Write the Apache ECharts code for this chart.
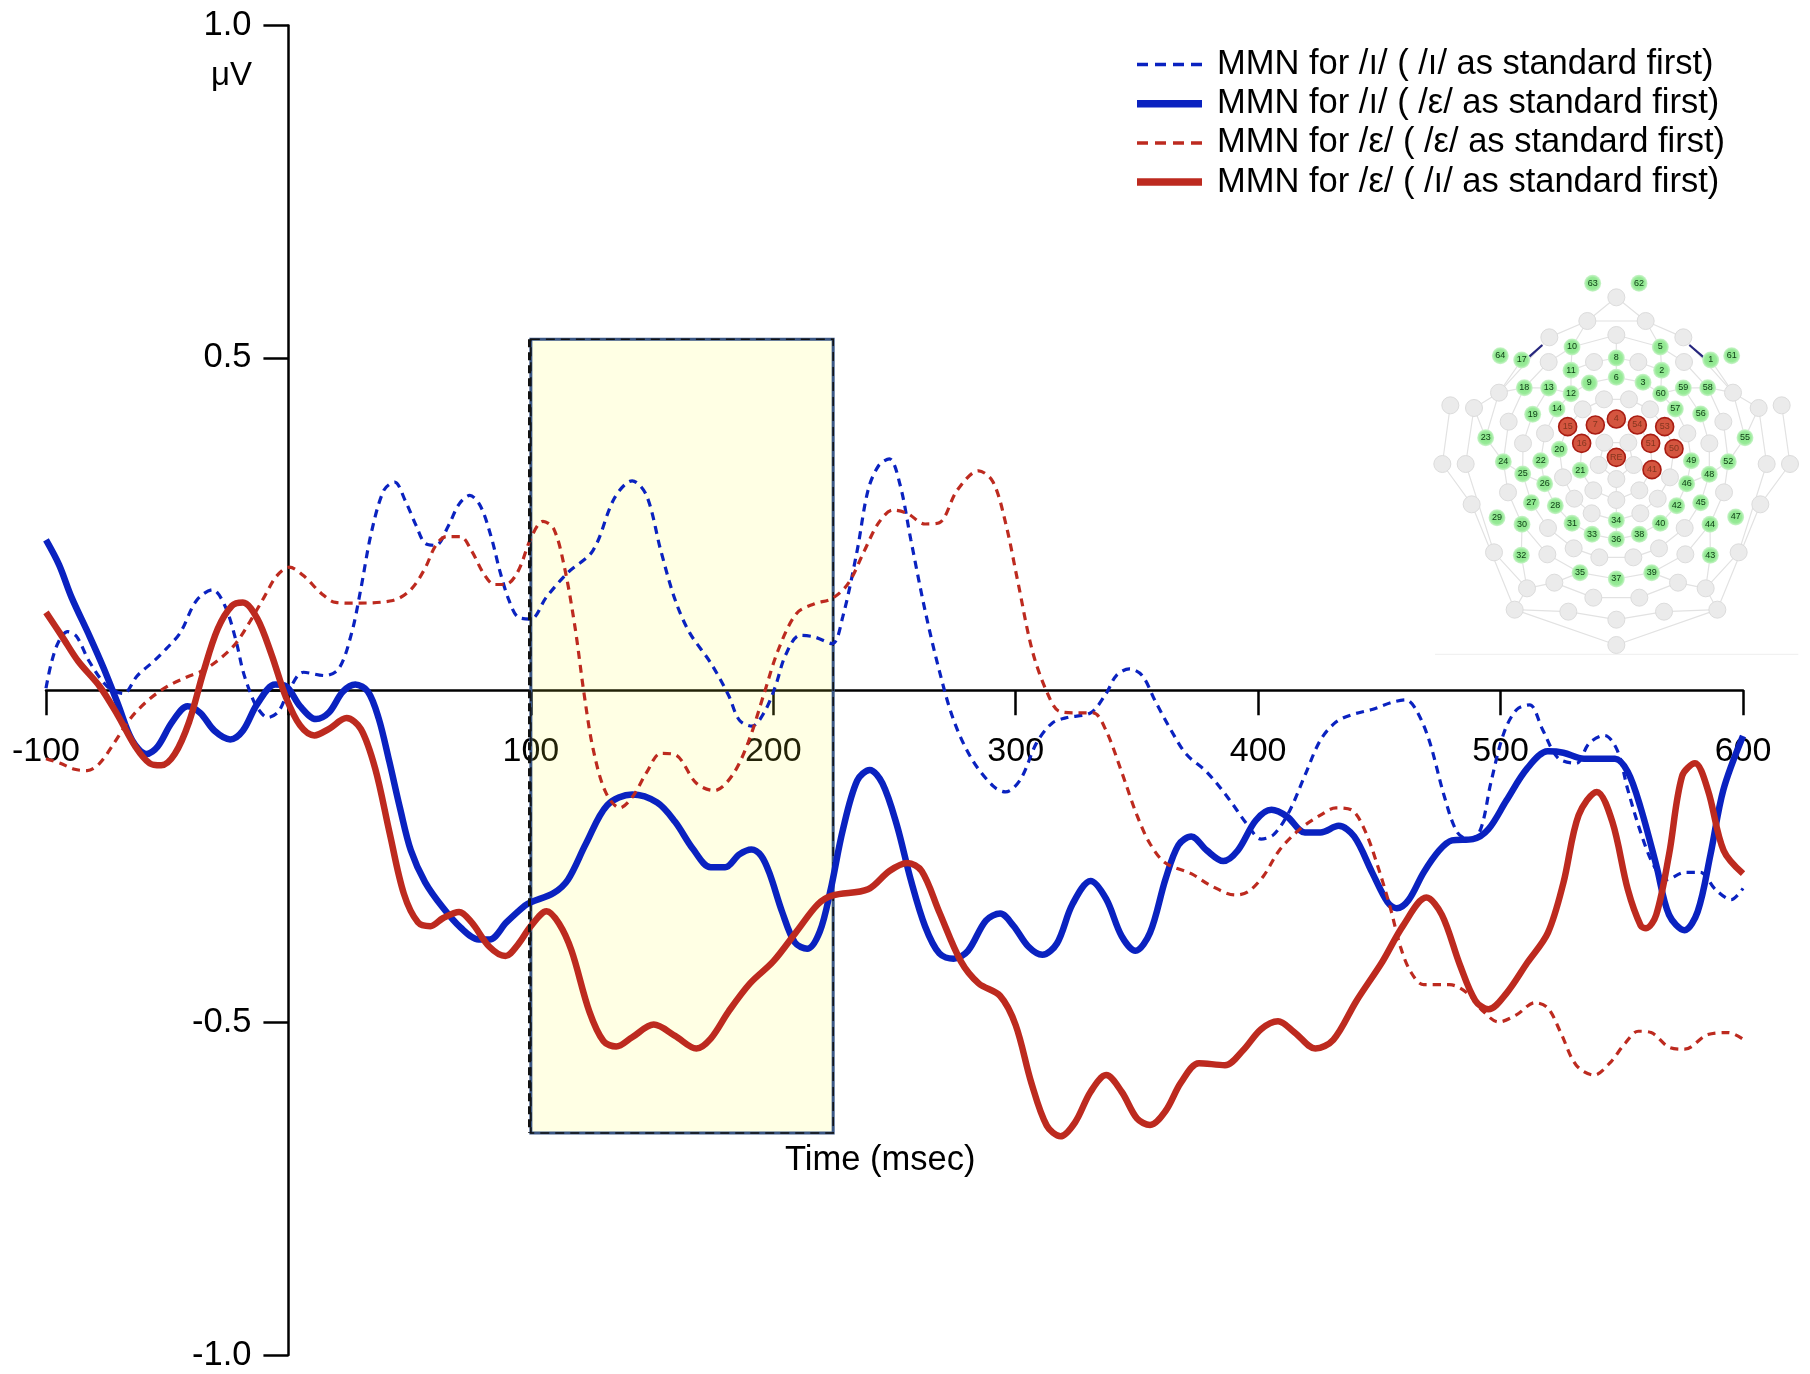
<!DOCTYPE html>
<html>
<head>
<meta charset="utf-8">
<style>html,body{margin:0;padding:0;background:#fff}#main{width:1810px;height:1374px}</style>
<script src="https://cdn.jsdelivr.net/npm/echarts@6/dist/echarts.min.js"></script>
</head>
<body>
<div id="main"></div>
<script>
// time (ms), amplitude (uV)
const blueDashed = [[-100,.003],[-97.8,.041],[-94.8,.073],[-91.1,.088],[-87.4,.081],[-82.2,.0435],[-74.8,.006],[-68.1,-.005],[-62.3,.022],[-55.6,.0435],[-49.7,.065],[-44.6,.0865],[-37.9,.135],[-31.3,.151],[-26.2,.127],[-21.7,.0757],[-18.8,.0295],[-15.9,-.002],[-12.9,-.026],[-8.5,-.041],[-4.1,-.032],[.3,.0005],[6.2,.027],[15,.022],[20.9,.033],[26.1,.0865],[29.8,.151],[34.2,.237],[39.4,.301],[43.8,.313],[48.2,.285],[52.7,.2475],[56.4,.221],[60.8,.218],[66,.2475],[70.4,.28],[74.8,.293],[79.2,.277],[83.6,.231],[87.3,.178],[91,.135],[94.7,.11],[100,.107],[106.4,.14],[115.3,.177],[125.6,.21],[134.5,.289],[141.8,.315],[147.7,.293],[153.6,.21],[159.5,.136],[165.4,.087],[174.2,.041],[181.6,-.008],[186,-.045],[191.2,-.054],[196.3,-.033],[200.7,.004],[205.2,.054],[211,.0825],[217,.08],[224.3,.07],[228.7,.111],[234.6,.21],[239.1,.301],[243.5,.338],[247.9,.348],[252.3,.309],[256.7,.227],[262.6,.12],[268.5,.029],[274.4,-.045],[281.8,-.103],[290.6,-.144],[295.8,-.153],[302,-.134],[308.5,-.08],[314.9,-.05],[321.3,-.041],[330.9,-.034],[337.3,-.005],[341.5,.022],[346.9,.032],[352.2,.022],[357.5,-.016],[363.9,-.059],[370.3,-.096],[378.8,-.123],[387.4,-.161],[395.9,-.204],[401.2,-.224],[406.5,-.217],[412.9,-.182],[419.3,-.128],[425.7,-.075],[432.1,-.048],[438.5,-.037],[447,-.029],[455.5,-.018],[460.9,-.0146],[465.1,-.029],[470.5,-.075],[476.9,-.161],[482.2,-.214],[487.5,-.225],[491.8,-.209],[496,-.139],[501.4,-.064],[506.7,-.029],[512,-.022],[517.3,-.059],[523.7,-.102],[531.2,-.11],[536.5,-.08],[542.9,-.068],[548.2,-.091],[552.5,-.15],[557.8,-.214],[563.1,-.263],[568.5,-.285],[575.9,-.274],[582.3,-.274],[588.7,-.3],[595.1,-.315],[600,-.298]];
const blueSolid = [[-100,.226],[-94.6,.1885],[-89.5,.14],[-82,.081],[-76.2,.033],[-70.3,-.021],[-64.5,-.075],[-58.5,-.096],[-54,-.085],[-48,-.048],[-41.6,-.024],[-36.4,-.034],[-30.5,-.061],[-24,-.074],[-18.8,-.061],[-12.9,-.021],[-5.5,.0086],[-1,.006],[4.8,-.024],[11.4,-.0435],[16.6,-.034],[22.5,-.002],[27.6,.0086],[32.8,-.002],[37.2,-.042],[41.6,-.107],[46,-.177],[50.5,-.241],[56.4,-.289],[63.7,-.327],[71,-.357],[78.5,-.375],[83,-.375],[90,-.349],[97.6,-.324],[100,-.319],[109.4,-.305],[115.3,-.285],[122.7,-.231],[131.5,-.173],[141.8,-.157],[152.1,-.169],[159.5,-.198],[166.9,-.239],[174.2,-.2665],[180.1,-.2665],[186,-.247],[191,-.2395],[195,-.249],[198.5,-.276],[203.7,-.334],[208.9,-.3795],[214,-.389],[219.2,-.363],[223.6,-.301],[228.7,-.21],[234.6,-.136],[239.8,-.12],[245,-.14],[250.9,-.202],[256.7,-.285],[262.6,-.355],[268.5,-.396],[274.4,-.404],[280.3,-.392],[287.7,-.3465],[293.6,-.336],[299,-.354],[305.3,-.386],[311,-.398],[317,-.381],[323.4,-.322],[330.9,-.287],[337.3,-.314],[343.7,-.37],[349.4,-.392],[355.4,-.365],[361.8,-.284],[367.1,-.233],[372.4,-.22],[378.8,-.241],[385.6,-.257],[391.6,-.241],[399,-.196],[405.5,-.18],[411.9,-.19],[419.3,-.214],[425.7,-.214],[433.2,-.204],[439.6,-.22],[447,-.274],[453.4,-.319],[457.2,-.328],[462,-.316],[468.3,-.274],[474.7,-.241],[480,-.226],[488.6,-.224],[495,-.209],[502.4,-.166],[510.9,-.118],[519.5,-.092],[525.9,-.094],[534.4,-.103],[547.2,-.103],[552.5,-.123],[557.8,-.177],[564.2,-.263],[569.5,-.338],[575.9,-.361],[581.3,-.333],[586.6,-.247],[591.9,-.15],[600,-.069]];
const redDashed = [[-100,-.103],[-94.1,-.11],[-88.2,-.119],[-83,-.121],[-77.9,-.11],[-72,-.08],[-64.6,-.04],[-57.2,-.013],[-49.8,.006],[-42.4,.019],[-35.1,.03],[-27.7,.049],[-21.8,.07],[-15.9,.103],[-10,.14],[-4.8,.172],[.4,.185],[6.3,.172],[13.6,.1455],[19.5,.132],[26.9,.131],[43.1,.135],[50.4,.151],[56.3,.183],[60.8,.218],[65.2,.231],[71,.231],[75.5,.21],[80.6,.175],[85,.159],[89.5,.159],[94.6,.178],[100.3,.231],[105,.254],[109.4,.243],[113.8,.186],[118.2,.095],[121.9,-.004],[125.6,-.087],[130.8,-.153],[136.7,-.177],[141.8,-.161],[147.7,-.124],[153.6,-.095],[159.5,-.097],[168.3,-.14],[175.7,-.151],[183.1,-.128],[189.7,-.078],[196.3,-.004],[202.2,.062],[209.6,.1155],[217,.13],[224.3,.138],[231,.161],[237.6,.21],[243.5,.252],[249.4,.271],[255.3,.266],[262.6,.25],[268.5,.252],[275.9,.301],[284.7,.33],[290.6,.3135],[295.8,.252],[301,.161],[306.8,.06],[312.8,-.002],[318.1,-.032],[325.6,-.034],[332,-.034],[337.3,-.061],[343.7,-.123],[350,-.188],[355.4,-.231],[361.8,-.26],[372.4,-.276],[381,-.295],[390.6,-.308],[395.9,-.303],[402.3,-.279],[408.7,-.241],[417.2,-.209],[425.7,-.188],[432.1,-.177],[438.5,-.18],[443.8,-.209],[449.2,-.263],[454.5,-.327],[458.7,-.386],[463,-.424],[468.3,-.443],[479,-.443],[486.4,-.456],[492.8,-.483],[499.2,-.499],[506.7,-.488],[514.1,-.47],[519.5,-.478],[524.8,-.515],[531.2,-.564],[538.6,-.579],[545,-.561],[551.4,-.531],[556.8,-.513],[562.1,-.515],[569.5,-.537],[575.9,-.54],[585.5,-.518],[594,-.515],[600,-.525]];
const redSolid = [[-100,.117],[-93.4,.081],[-86.7,.0435],[-77.9,.006],[-70.5,-.037],[-63.1,-.085],[-57.2,-.11],[-52.5,-.113],[-46.9,-.096],[-41,-.048],[-35.1,.027],[-29.2,.092],[-23.3,.127],[-18.8,.132],[-12.9,.108],[-7,.054],[-1.1,-.01],[4.8,-.053],[10.7,-.068],[16.6,-.0585],[24,-.042],[29.9,-.0585],[35.8,-.118],[41.7,-.214],[47.6,-.306],[53.4,-.349],[58.6,-.355],[63.7,-.343],[70.4,-.3335],[75.5,-.349],[82.9,-.386],[89.5,-.4],[94.6,-.383],[100,-.355],[106.5,-.3325],[111.6,-.351],[116.8,-.392],[124.1,-.483],[130,-.528],[135.2,-.536],[141.8,-.522],[150.7,-.503],[159.5,-.52],[168.3,-.539],[174.2,-.524],[181.6,-.483],[190.4,-.441],[200,-.408],[209.6,-.363],[218.4,-.322],[224.3,-.309],[239.1,-.2995],[247.9,-.272],[255.3,-.26],[261.2,-.272],[268.5,-.334],[277.4,-.408],[284.7,-.441],[293.6,-.46],[300,-.504],[306.4,-.59],[312.8,-.655],[318.5,-.671],[324.5,-.65],[330.9,-.604],[337.3,-.579],[343.7,-.604],[350,-.644],[355.4,-.654],[361.8,-.633],[368.2,-.59],[375.6,-.561],[386.3,-.564],[393.7,-.542],[401.2,-.51],[408.2,-.498],[415.1,-.515],[423.6,-.539],[431,-.526],[440.6,-.467],[451.3,-.408],[459.8,-.354],[469.4,-.312],[475.8,-.338],[483.2,-.413],[489.6,-.467],[495,-.48],[502.4,-.456],[511,-.41],[519.5,-.365],[525.9,-.29],[532.2,-.188],[539.7,-.153],[546.1,-.198],[552.5,-.3],[557.8,-.354],[560,-.358],[564.2,-.338],[569.5,-.247],[574.9,-.129],[580.2,-.11],[585.5,-.15],[592,-.241],[600,-.276]];

const seriesNames = ['MMN for /ı/ ( /ı/ as standard first)', 'MMN for /ı/ ( /ε/ as standard first)', 'MMN for /ε/ ( /ε/ as standard first)', 'MMN for /ε/ ( /ı/ as standard first)'];
const windowTime = [100, 224.7];
const windowAmp = [.528, -.666];

// electrode map, in the inset's own units
const greenSites = [[518,70,'63'],[657,70,'62'],[241,287,'64'],[305,300,'17'],[456,261,'10'],[721,261,'5'],[872,300,'1'],[935,287,'61'],[589,294,'8'],[453,331,'11'],[725,331,'2'],[508,369,'9'],[589,352,'6'],[669,367,'3'],[313,383,'18'],[386,384,'13'],[453,401,'12'],[722,401,'60'],[790,384,'59'],[863,383,'58'],[411,447,'14'],[766,447,'57'],[338,463,'19'],[842,462,'56'],[197,533,'23'],[975,533,'55'],[418,568,'20'],[362,602,'22'],[250,605,'24'],[925,605,'52'],[814,602,'49'],[481,631,'21'],[308,642,'25'],[868,643,'48'],[374,671,'26'],[800,671,'46'],[334,728,'27'],[842,728,'45'],[406,737,'28'],[770,737,'42'],[231,773,'29'],[947,771,'47'],[306,793,'30'],[870,793,'44'],[456,790,'31'],[721,790,'40'],[589,781,'34'],[516,823,'33'],[658,823,'38'],[589,838,'36'],[304,886,'32'],[871,886,'43'],[480,938,'35'],[695,938,'39'],[589,957,'37']];
const redSites = [[589,477,'4'],[526,495,'7'],[443,500,'15'],[485,550,'16'],[652,495,'54'],[734,500,'53'],[692,550,'51'],[762,566,'50'],[696,629,'41'],[589,592,'RE']];
const greySites = [[589,112],[502,183],[677,183],[388,232],[790,232],[589,225],[386,306],[792,306],[522,306],[655,306],[237,398],[939,398],[552,418],[627,418],[488,448],[690,448],[91,436],[162,444],[1016,444],[1085,436],[266,485],[910,485],[375,520],[802,520],[309,550],[868,550],[553,548],[625,548],[67,612],[137,612],[1040,612],[1110,612],[536,615],[641,615],[429,652],[750,652],[589,657],[264,697],[912,697],[520,691],[658,691],[463,716],[713,716],[589,720],[155,733],[1021,733],[515,760],[661,760],[384,804],[794,804],[222,877],[956,877],[382,883],[796,883],[461,865],[717,865],[538,892],[640,892],[321,985],[857,985],[403,968],[774,968],[520,1013],[658,1013],[284,1049],[892,1049],[445,1055],[732,1055],[589,1079],[589,1155]];
const siteLinks = [
  [[91,436],[67,612],[155,733],[284,1049],[589,1155],[892,1049],[1021,733],[1110,612],[1085,436]],
  [[162,444],[137,612],[222,877],[321,985],[284,1049]],
  [[1016,444],[1040,612],[956,877],[857,985],[892,1049]],
  [[162,444],[237,398],[388,232],[502,183],[589,112],[677,183],[790,232],[939,398],[1016,444]],
  [[502,183],[677,183]],
  [[502,183],[456,261],[453,331],[453,401]],
  [[677,183],[721,261],[725,331],[722,401]],
  [[386,306],[456,261],[589,225],[721,261],[792,306]],
  [[305,300],[237,398],[313,383],[386,384],[453,401],[508,369],[589,352],[669,367],[722,401],[790,384],[863,383],[939,398],[872,300]],
  [[386,306],[313,383],[266,485],[250,605],[264,697],[306,793],[304,886],[321,985]],
  [[792,306],[863,383],[910,485],[925,605],[912,697],[870,793],[871,886],[857,985]],
  [[453,331],[522,306],[589,294],[655,306],[725,331]],
  [[386,384],[338,463],[309,550],[308,642],[334,728],[384,804],[461,865],[538,892],[640,892],[717,865],[794,804],[842,728],[868,643],[868,550],[842,462],[790,384]],
  [[453,401],[411,447],[375,520],[362,602],[374,671],[406,737],[456,790],[516,823],[589,838],[658,823],[721,790],[770,737],[800,671],[814,602],[802,520],[766,447],[722,401]],
  [[488,448],[443,500],[418,568],[429,652],[463,716],[515,760],[589,781],[661,760],[713,716],[750,652],[762,566],[734,500],[690,448],[627,418],[552,418],[488,448]],
  [[526,495],[589,477],[652,495],[692,550],[696,629],[658,691],[589,720],[520,691],[481,631],[485,550],[526,495]],
  [[553,548],[625,548],[641,615],[589,657],[536,615],[553,548]],
  [[589,225],[589,352]],
  [[589,657],[589,838]],
  [[284,1049],[445,1055],[589,1079],[732,1055],[892,1049]],
  [[321,985],[403,968],[520,1013],[658,1013],[774,968],[857,985]],
  [[403,968],[480,938],[589,957],[695,938],[774,968]],
  [[306,793],[382,883],[480,938]],
  [[870,793],[796,883],[695,938]],
  [[162,444],[197,533],[250,605],[308,642],[374,671]],
  [[1016,444],[975,533],[925,605],[868,643],[800,671]],
  [[237,398],[197,533]],
  [[939,398],[975,533]]
];
const navyLinks = [[[328,290],[367,255]], [[808,255],[852,293]]];
const floorLine = [[45,1183],[1135,1183]];

const BLUE = '#0a22c0';
const RED = '#bd2a1f';
const FONT = '"Liberation Sans", Arial, sans-serif';
const PLOT_W = 1697;
const PLOT_H = 1329.6;

// legend keys
const solidKey = 'path://M0 0H65V7.5H0Z';
const dashedKey = 'path://M0 2H11V5.5H0ZM18 2H29V5.5H18ZM36 2H47V5.5H36ZM54 2H65V5.5H54ZM0 0H0V7.5H0Z';

var myChart = echarts.init(document.getElementById('main'));

function curve(name, data, color, width, dash) {
  return {
    name: name,
    type: 'line',
    data: data,
    smooth: 0.33,
    symbol: 'none',
    z: 3,
    lineStyle: { color: color, width: width, type: dash ? [8, 6] : 'solid', cap: 'butt' },
    itemStyle: { color: color }
  };
}

function insetLine(points, color, width) {
  return {
    type: 'line', xAxisIndex: 1, yAxisIndex: 1, data: points, symbol: 'none', silent: true, z: 1,
    lineStyle: { color: color, width: width }
  };
}

function sites(data, size, fill, border, borderWidth, textColor, z) {
  return {
    type: 'scatter', xAxisIndex: 1, yAxisIndex: 1, data: data, symbolSize: size, silent: true, z: z,
    itemStyle: { color: fill, borderColor: border, borderWidth: borderWidth, opacity: 1 },
    label: {
      show: !!textColor, position: 'inside', color: textColor, fontSize: 9, fontFamily: FONT,
      formatter: function (p) { return p.value[2]; }
    }
  };
}

const greenFill = {
  type: 'radial', x: .5, y: .5, r: .5,
  colorStops: [{ offset: 0, color: '#86e586' }, { offset: .7, color: '#98ea98' }, { offset: 1, color: '#cdf5cd' }]
};

var option = {
  animation: false,
  backgroundColor: '#fff',
  textStyle: { fontFamily: FONT },
  legend: {
    orient: 'vertical',
    left: 1132,
    top: 42,
    itemWidth: 65,
    itemHeight: 7.5,
    itemGap: 4.2,
    selectedMode: false,
    data: [
      { name: seriesNames[0], icon: dashedKey },
      { name: seriesNames[1], icon: solidKey },
      { name: seriesNames[2], icon: dashedKey },
      { name: seriesNames[3], icon: solidKey }
    ],
    textStyle: { fontSize: 34.5, lineHeight: 34, color: '#000', fontFamily: FONT, padding: [0, 0, 0, 10] }
  },
  grid: [
    { left: 46, top: 25.4, width: PLOT_W, height: PLOT_H, outerBoundsMode: 'none' },
    { left: 1420, top: 260, width: 390, height: 410, outerBoundsMode: 'none' }
  ],
  xAxis: [
    {
      type: 'value', min: -100, max: 600, interval: 100,
      position: 'bottom', offset: -PLOT_H / 2,
      splitLine: { show: false },
      axisLine: { onZero: false, lineStyle: { color: '#000', width: 2.5 } },
      axisTick: { length: 25, lineStyle: { color: '#000', width: 2.5 } },
      axisLabel: {
        fontSize: 34, color: '#000', margin: 44, fontFamily: FONT, showMinLabel: true, showMaxLabel: true,
        formatter: function (v) { return v === 0 ? '' : String(v); }
      }
    },
    { gridIndex: 1, type: 'value', min: 0, max: 1170, show: false }
  ],
  yAxis: [
    {
      type: 'value', min: -1, max: 1, interval: .5,
      position: 'left', offset: -PLOT_W / 7,
      splitLine: { show: false },
      axisLine: { onZero: false, lineStyle: { color: '#000', width: 2.5 } },
      axisTick: { length: 25, lineStyle: { color: '#000', width: 2.5 } },
      axisLabel: {
        fontSize: 34.5, color: '#000', margin: 37, fontFamily: FONT,
        formatter: function (v) { return v === 0 ? '' : v.toFixed(1); }
      }
    },
    { gridIndex: 1, type: 'value', min: 0, max: 1230, inverse: true, show: false }
  ],
  graphic: [
    { type: 'text', left: 211, top: 59, style: { text: 'μV', font: '33px ' + FONT, fill: '#000' } },
    { type: 'text', left: 785, top: 1143, style: { text: 'Time (msec)', font: '34.5px ' + FONT, fill: '#000' } }
  ],
  series: [
    curve(seriesNames[0], blueDashed, BLUE, 3.2, true),
    curve(seriesNames[1], blueSolid, BLUE, 6.5, false),
    curve(seriesNames[2], redDashed, RED, 3.2, true),
    curve(seriesNames[3], redSolid, RED, 6.5, false),
    // analysis window, laid over the traces like a transparent sheet
    {
      type: 'line', data: [], z: 6, silent: true,
      markArea: {
        silent: true,
        itemStyle: { color: 'rgba(255,255,58,0.137)', borderColor: '#3a5683', borderWidth: 3 },
        data: [[{ xAxis: windowTime[0], yAxis: windowAmp[0] }, { xAxis: windowTime[1], yAxis: windowAmp[1] }]]
      }
    },
    {
      type: 'line', data: [], z: 7, silent: true,
      markArea: {
        silent: true,
        itemStyle: { color: 'rgba(0,0,0,0)', borderColor: '#111', borderWidth: 1.5, borderType: [9, 6] },
        data: [[{ xAxis: windowTime[0], yAxis: windowAmp[0] }, { xAxis: windowTime[1], yAxis: windowAmp[1] }]]
      },
      markLine: {
        silent: true, symbol: 'none', label: { show: false },
        lineStyle: { color: '#111', width: 3, type: [8, 5] },
        data: [[{ xAxis: windowTime[0] - .8, yAxis: windowAmp[0] }, { xAxis: windowTime[0] - .8, yAxis: windowAmp[1] }]]
      }
    }
  ]
    .concat(siteLinks.map(function (p) { return insetLine(p, '#e2e2e2', 1.2); }))
    .concat(navyLinks.map(function (p) { return insetLine(p, '#26267e', 2.2); }))
    .concat([insetLine(floorLine, '#eeeeee', 1)])
    .concat([
      sites(greySites, 17, '#ebebeb', '#dcdcdc', 1, null, 2),
      sites(greenSites, 17, greenFill, 'rgba(0,0,0,0)', 0, '#0c3a14', 3),
      sites(redSites, 18, '#d4553f', '#a81c12', 1.6, '#84361f', 4)
    ])
};

myChart.setOption(option);
</script>
</body>
</html>
